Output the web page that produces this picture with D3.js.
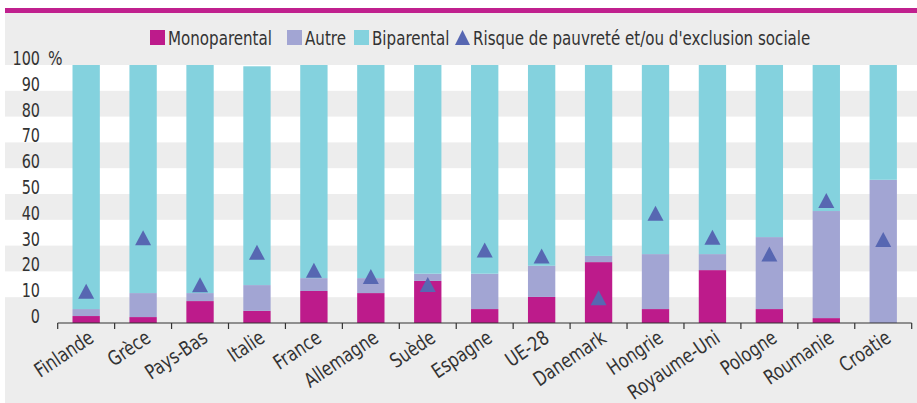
<!DOCTYPE html>
<meta charset="UTF-8">
<style>
  body {
    margin: 0;
    background-color: #fff;
  }
  text {
    font-family: "Liberation Sans Narrow", "DejaVu Sans Condensed", "Roboto", sans-serif;
    fill: #333;
  }
</style>
<svg xmlns="http://www.w3.org/2000/svg" width="917" height="403"></svg>
<script src="https://d3js.org/d3.v7.min.js"></script>
<script>
  const countries = ['Finlande', 'Grèce', 'Pays-Bas', 'Italie', 'France', 'Allemagne', 'Suède',
    'Espagne', 'UE-28', 'Danemark', 'Hongrie', 'Royaume-Uni', 'Pologne', 'Roumanie', 'Croatie'];
  const monoparental = [2.7, 2.3, 8.5, 4.7, 12.4, 11.6, 16.3, 5.4, 10.1, 23.6, 5.4, 20.5, 5.4, 1.9, 0];
  const autre = [2.7, 9.3, 3.1, 10.0, 5.0, 5.8, 2.8, 13.7, 12.1, 2.4, 21.3, 6.2, 27.9, 41.5, 55.5];
  const biparental = [94.6, 88.4, 88.4, 84.8, 82.6, 82.6, 80.9, 80.9, 77.8, 74.0, 73.3, 73.3, 66.7, 56.6, 44.5];
  const risque = [12.3, 33, 14.8, 27.4, 20.4, 18, 14.9, 28.3, 26, 9.8, 42.5, 33.2, 26.7, 47.5, 32.4];
  const yTicks = [0, 10, 20, 30, 40, 50, 60, 70, 80, 90, 100];

  const seriesNames = ['Monoparental', 'Autre', 'Biparental'];
  const colors = ['#bd1b8b', '#a2a5d3', '#84d2de'];
  const triColor = '#5767b2';

  const W = 917, H = 403;
  const SQUEEZE = 0.84; // narrow the fallback font to look condensed
  const svg = d3.select('svg');

  // panel background + top rule
  svg.append('rect').attr('x', 5).attr('y', 13).attr('width', W - 5).attr('height', H - 13)
    .attr('fill', '#ededed');
  svg.append('rect').attr('x', 5).attr('y', 8).attr('width', W - 5).attr('height', 5)
    .attr('fill', '#c0208e');

  const x = d3.scaleBand()
    .domain(countries)
    .range([57.7, 911.7])
    .paddingInner(0.52)
    .paddingOuter(0.26);

  const y = d3.scaleLinear()
    .domain([0, 100])
    .range([323, 65]);

  // white stripes: 100-90, 80-70, 60-50, 40-30, 20-10
  svg.selectAll('rect.stripe')
    .data(yTicks.filter(t => t > 0 && t % 20 === 0))
    .enter().append('rect').classed('stripe', true)
      .attr('x', 5)
      .attr('width', W - 5)
      .attr('y', t => y(t))
      .attr('height', y(0) - y(10))
      .attr('fill', '#fff');

  // y labels
  svg.selectAll('text.ylab')
    .data(yTicks)
    .enter().append('text').classed('ylab', true)
      .attr('transform', t => `translate(40,${y(t)}) scale(0.8,1)`)
      .attr('text-anchor', 'end')
      .style('font-size', '20px')
      .text(t => t);
  svg.append('text')
    .attr('transform', `translate(48,${y(100)}) scale(0.85,1)`)
    .style('font-size', '20px')
    .text('%');

  // stacked bars
  const rows = countries.map((c, i) => ({
    country: c,
    Monoparental: monoparental[i],
    Autre: autre[i],
    Biparental: biparental[i],
  }));
  const stacked = d3.stack().keys(seriesNames)(rows);

  svg.selectAll('g.series')
    .data(stacked)
    .enter().append('g').classed('series', true)
      .attr('fill', (_, i) => colors[i])
    .selectAll('rect')
    .data(d => d)
    .enter().append('rect')
      .attr('x', d => x(d.data.country))
      .attr('width', x.bandwidth())
      .attr('y', d => y(d[1]))
      .attr('height', d => y(d[0]) - y(d[1]));

  // risk triangles, centred on the value
  svg.selectAll('path.risk')
    .data(risque)
    .enter().append('path').classed('risk', true)
      .attr('d', 'M0,-7.5L8,7.5L-8,7.5Z')
      .attr('transform', (v, i) => `translate(${x(countries[i]) + x.bandwidth() / 2},${y(v)})`)
      .attr('fill', triColor);

  // x axis with ticks between categories
  const step = x.step();
  const x0 = x.range()[0];
  svg.append('line')
    .attr('x1', x0).attr('x2', x.range()[1])
    .attr('y1', y(0)).attr('y2', y(0))
    .attr('stroke', '#333').attr('stroke-width', 1.2);
  svg.selectAll('line.tick')
    .data(d3.range(countries.length + 1))
    .enter().append('line').classed('tick', true)
      .attr('x1', i => x0 + i * step).attr('x2', i => x0 + i * step)
      .attr('y1', y(0)).attr('y2', y(0) + 6)
      .attr('stroke', '#333').attr('stroke-width', 1.2);

  svg.selectAll('text.xlab')
    .data(countries)
    .enter().append('text').classed('xlab', true)
      .attr('transform', c =>
        `translate(${x(c) + x.bandwidth() / 2 + 9},${y(0) + 18}) rotate(-34) scale(0.88,1)`)
      .attr('text-anchor', 'end')
      .style('font-size', '20px')
      .text(c => c);

  // legend
  const legend = [
    {label: 'Monoparental', x: 150, color: colors[0]},
    {label: 'Autre', x: 287, color: colors[1]},
    {label: 'Biparental', x: 354, color: colors[2]},
    {label: 'Risque de pauvreté et/ou d\'exclusion sociale', x: 455, color: triColor, tri: true},
  ];
  const lg = svg.selectAll('g.legend')
    .data(legend)
    .enter().append('g').classed('legend', true)
      .attr('transform', d => `translate(${d.x},30)`);
  lg.filter(d => !d.tri).append('rect')
    .attr('width', 15).attr('height', 15)
    .attr('fill', d => d.color);
  lg.filter(d => d.tri).append('path')
    .attr('d', 'M7.5,0L15,15L0,15Z')
    .attr('fill', d => d.color);
  lg.append('text')
    .attr('transform', `translate(18,15) scale(${SQUEEZE},1)`)
    .style('font-size', '20px')
    .text(d => d.label);
</script>
